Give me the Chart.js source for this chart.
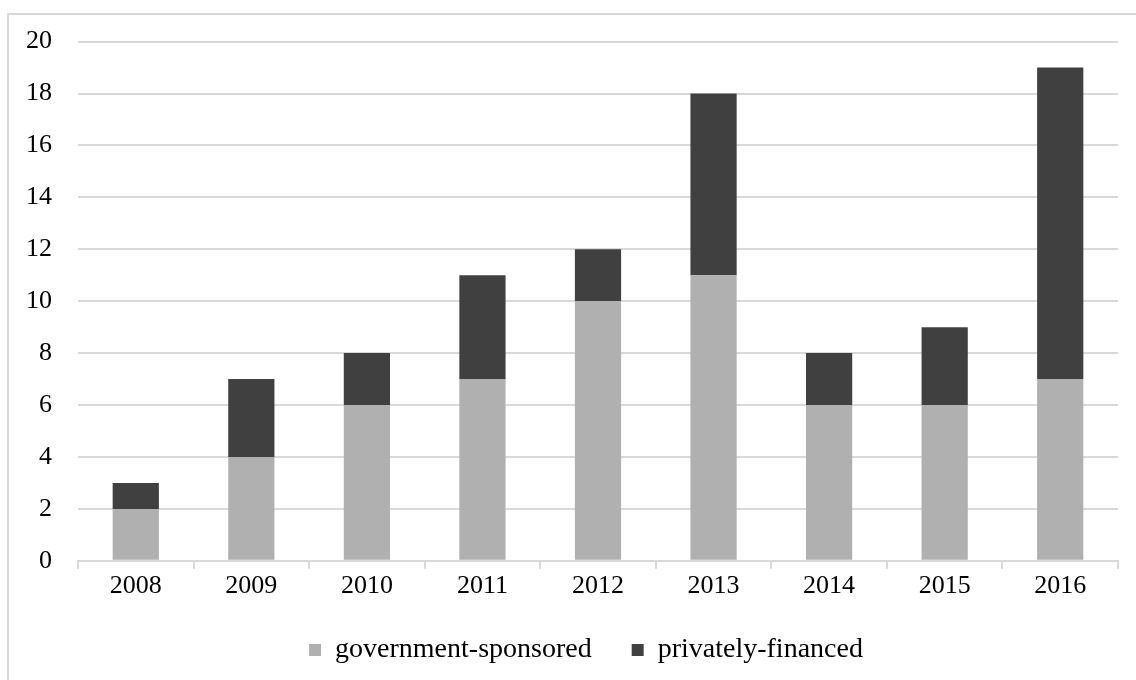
<!DOCTYPE html>
<html>
<head>
<meta charset="utf-8">
<script src="https://cdn.jsdelivr.net/npm/chart.js@4"></script>
<style>
  html, body { margin: 0; padding: 0; background: #fff; }
  #wrap { position: relative; width: 1136px; height: 680px; overflow: hidden; }
  #frame { position: absolute; left: 7px; top: 13px; width: 1140px; height: 680px; border: 2px solid #d9d9d9; box-sizing: border-box; }
  canvas { position: absolute; left: 0; top: 0; }
</style>
</head>
<body>
<div id="wrap">
  <div id="frame"></div>
  <canvas id="chart" width="1136" height="680"></canvas>
</div>
<script>
const years = ['2008', '2009', '2010', '2011', '2012', '2013', '2014', '2015', '2016'];
const governmentSponsored = [2, 4, 6, 7, 10, 11, 6, 6, 7];
const privatelyFinanced = [1, 3, 2, 4, 2, 7, 2, 3, 12];

// nudge the legend a bit right/up so it sits like the original
const legendNudge = {
    id: 'legendNudge',
    afterLayout(chart) {
        const lg = chart.legend;
        if (!lg) return;
        lg.left += 27;
        lg.right += 27;
        lg.top -= 8;
        lg.bottom -= 8;
    }
};

document.addEventListener('DOMContentLoaded', function () {
    const ctx = document.getElementById('chart');
    new Chart(ctx, {
        type: 'bar',
        data: {
            labels: years,
            datasets: [{
                label: 'government-sponsored',
                data: governmentSponsored,
                backgroundColor: '#b0b0b0'
            }, {
                label: 'privately-financed',
                data: privatelyFinanced,
                backgroundColor: '#404040'
            }]
        },
        options: {
            responsive: false,
            animation: false,
            devicePixelRatio: 1,
            categoryPercentage: 1,
            barPercentage: 0.4,
            layout: {
                padding: { left: 0, right: 18, top: 38, bottom: -2 }
            },
            plugins: {
                legend: {
                    position: 'bottom',
                    labels: {
                        font: { family: 'Liberation Serif', size: 28 },
                        color: '#000',
                        boxWidth: 12,
                        boxHeight: 12,
                        padding: 40
                    }
                },
                tooltip: { enabled: false }
            },
            scales: {
                x: {
                    stacked: true,
                    grid: {
                        offset: true,
                        drawOnChartArea: false,
                        drawTicks: true,
                        tickLength: 8,
                        color: '#d9d9d9',
                        lineWidth: 2
                    },
                    border: { color: '#d9d9d9', width: 2 },
                    ticks: {
                        font: { family: 'Liberation Serif', size: 26 },
                        color: '#000',
                        padding: 2
                    }
                },
                y: {
                    stacked: true,
                    min: 0,
                    max: 20,
                    grid: {
                        color: '#d9d9d9',
                        lineWidth: 2,
                        drawTicks: false
                    },
                    border: { display: false },
                    ticks: {
                        stepSize: 2,
                        font: { family: 'Liberation Serif', size: 26 },
                        color: '#000',
                        padding: 26
                    }
                }
            }
        },
        plugins: [legendNudge]
    });
});
</script>
</body>
</html>
